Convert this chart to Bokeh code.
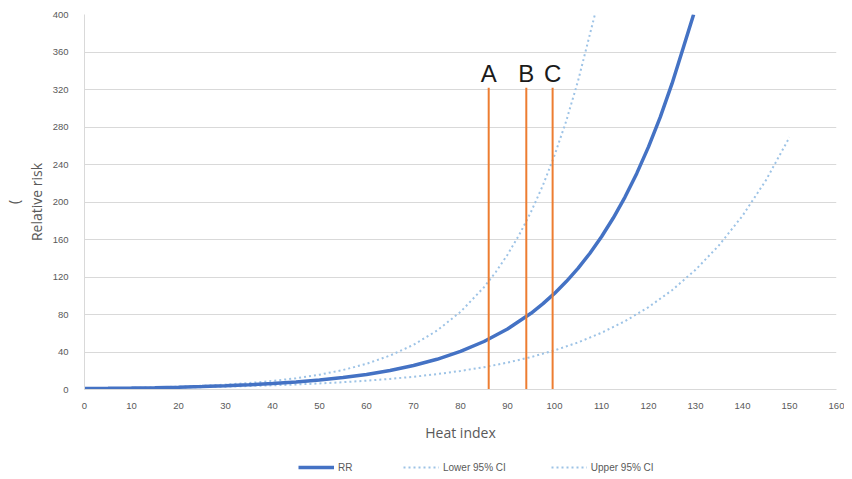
from bokeh.plotting import figure
from bokeh.models import Range1d, Legend, LegendItem, FixedTicker, ColumnDataSource
from bokeh.layouts import column
from bokeh.embed import file_html
from bokeh.resources import INLINE

# Heat index values and read-off curves
heat_rr = [0, 5, 10, 15, 20, 25, 30, 35, 40, 45, 50, 55, 60, 65, 70, 75, 80, 85, 90, 95, 97.5, 100, 102.5, 105, 107.5, 110,
           112.5, 115, 117.5, 120, 122.5, 125, 127.5, 129.6]
rr = [1.0, 1.26, 1.59, 2.0, 2.52, 3.18, 4.01, 5.06, 6.37, 8.03, 10.1, 12.8, 16.1, 20.3, 25.6, 32.2, 40.6, 51.2, 64.5, 81.3, 91.3, 102.5, 115.1, 129.2, 145.1, 162.9,
      182.9, 205.3, 230.5, 258.8, 290.5, 326.2, 366.2, 400]

heat_upper = [0, 5, 10, 15, 20, 25, 30, 35, 40, 45, 50, 55, 60, 65, 70, 75, 80, 85, 87.5, 90, 92.5, 95, 97.5, 100, 102.5, 105, 108.6]
upper = [1.0, 1.32, 1.74, 2.29, 3.02, 3.97, 5.24, 6.9, 9.1, 12.0, 15.8, 20.8, 27.4, 36.2, 47.7, 62.8, 82.8, 109.1, 125.3, 143.8, 165.1, 189.4, 217.4, 249.6, 286.5, 329.0, 400]

heat_lower = [0, 5, 10, 15, 20, 25, 30, 35, 40, 45, 50, 55, 60, 65, 70, 75, 80, 85, 90, 95, 100, 105, 110, 115, 120, 125, 130, 135, 140, 145, 150]
lower = [1.0, 1.21, 1.45, 1.75, 2.11, 2.54, 3.06, 3.69, 4.45, 5.36, 6.46, 7.78, 9.37, 11.3, 13.6, 16.4, 19.8, 23.8, 28.7, 34.6, 41.7, 50.2, 60.5, 72.9, 87.9, 105.9, 127.6, 153.8, 185.3, 223.3, 269.1]

marker_x = [86, 94, 99.6]
marker_top = [322, 322, 322]
marker_labels = ["A", "B", "C"]

series_names = ["RR", "Lower 95% CI", "Upper 95% CI"]

x_ticks = list(range(0, 161, 10))
y_ticks = list(range(0, 401, 40))

GRAY = "#595959"
BLUE = "#4472C4"
LBLUE = "#9DC3E6"
ORANGE = "#ED7D31"

W = 844
p = figure(width=W, height=444, output_backend="svg", toolbar_location=None,
           x_range=Range1d(0, 160), y_range=Range1d(0, 400),
           min_border_left=84, min_border_right=8, min_border_top=14, min_border_bottom=2)
p.outline_line_color = None
p.background_fill_color = "white"
p.border_fill_color = "white"

p.xgrid.grid_line_color = None
p.ygrid.grid_line_color = "#d9d9d9"
p.ygrid.grid_line_width = 1

p.xaxis.ticker = FixedTicker(ticks=x_ticks)
p.yaxis.ticker = FixedTicker(ticks=y_ticks)
for ax in (p.xaxis, p.yaxis):
    ax.axis_line_color = "#d9d9d9"
    ax.major_tick_line_color = None
    ax.minor_tick_line_color = None
    ax.major_label_text_color = GRAY
    ax.major_label_text_font = "Liberation Sans"
    ax.major_label_text_font_size = "9.5px"
    ax.axis_label_text_color = GRAY
    ax.axis_label_text_font = "Open Sans"
    ax.axis_label_text_font_size = "14px"
    ax.axis_label_text_font_style = "normal"
p.xaxis.axis_label = "Heat index"
p.yaxis.axis_label = "(\nRelative risk"
p.xaxis.major_label_standoff = 7
p.xaxis.axis_label_standoff = 11
p.yaxis.major_label_standoff = 10
p.yaxis.axis_label_standoff = 4

r_lower = p.line(heat_lower, lower, line_color=LBLUE, line_width=2, line_dash="2 3")
r_upper = p.line(heat_upper, upper, line_color=LBLUE, line_width=2, line_dash="2 3")
r_rr = p.line(heat_rr, rr, line_color=BLUE, line_width=3.5)

src = ColumnDataSource(dict(x=marker_x, y0=[0, 0, 0], y1=marker_top, t=marker_labels))
p.segment(x0="x", y0="y0", x1="x", y1="y1", source=src, line_color=ORANGE, line_width=2)
p.text(x="x", y="y1", text="t", source=src, text_align="center", text_baseline="bottom",
       text_font_size="24px", text_color="#1a1a1a", y_offset=-1)

# legend strip below the chart
lg = figure(width=W, height=34, output_backend="svg", toolbar_location=None,
            x_range=Range1d(0, 1), y_range=Range1d(0, 1),
            x_axis_location=None, y_axis_location=None,
            min_border_left=0, min_border_right=0, min_border_top=0, min_border_bottom=0)
lg.grid.visible = False
lg.outline_line_color = None
hidden = ColumnDataSource(dict(x=[-5, -4], y=[-5, -5]))
l_rr = lg.line("x", "y", source=hidden, line_color=BLUE, line_width=3.5)
l_lo = lg.line("x", "y", source=hidden, line_color=LBLUE, line_width=2, line_dash="2 3")
l_up = lg.line("x", "y", source=hidden, line_color=LBLUE, line_width=2, line_dash="2 3")
legend = Legend(items=[
    LegendItem(label=series_names[0], renderers=[l_rr]),
    LegendItem(label=series_names[1], renderers=[l_lo]),
    LegendItem(label=series_names[2], renderers=[l_up]),
], orientation="horizontal", location=(214, 5), spacing=45,
    label_text_font_size="10px", label_text_color=GRAY, label_text_font="Liberation Sans",
    glyph_width=36, glyph_height=12, border_line_color=None, background_fill_alpha=0,
    padding=0, margin=0, label_standoff=4, label_height=12)
lg.add_layout(legend, "center")

layout = column(p, lg, spacing=0)
open("out.html", "w").write(file_html(layout, INLINE))
